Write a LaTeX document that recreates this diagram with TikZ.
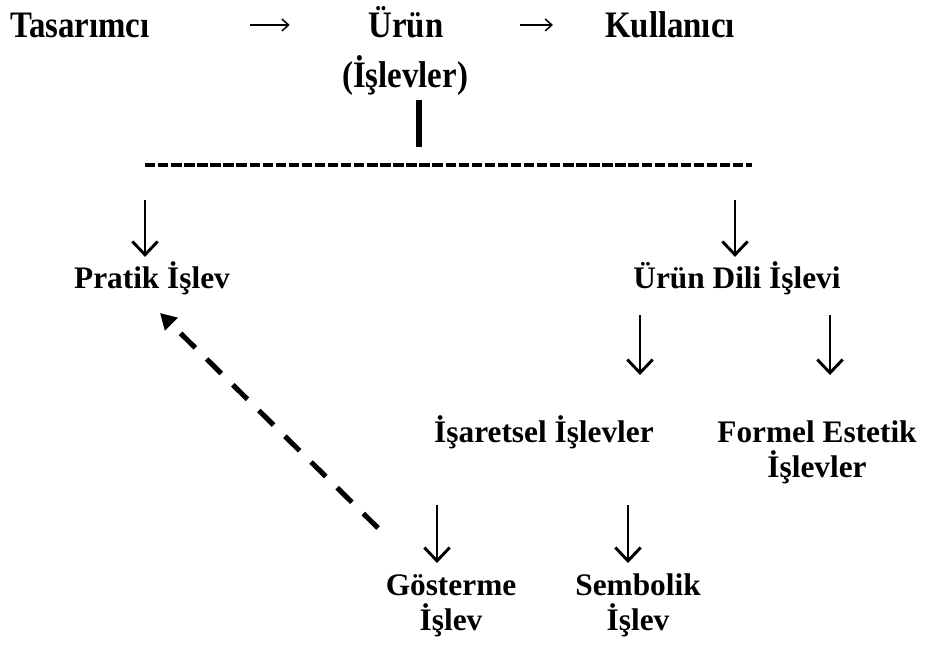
\documentclass[tikz,border=0pt]{standalone}
\usepackage{fontspec}
\setmainfont{Liberation Serif}
\newfontfamily\headfont{Liberation Serif}[FakeStretch=0.88]
\usetikzlibrary{arrows.meta}
\begin{document}
\begin{tikzpicture}[x=0.75pt,y=-0.75pt,
  lbl/.style={font=\bfseries\fontsize{23.5}{26}\selectfont, inner sep=0pt, anchor=base, align=center},
  headlbl/.style={font=\headfont\bfseries\fontsize{28}{30}\selectfont, inner sep=0pt, anchor=base},
  toparr/.style={line width=1.1pt, -{Straight Barb[length=5pt,width=9pt]}},
  darr/.style={line width=2.2pt, -{Straight Barb[length=10pt,width=19pt]}},
  dasharr/.style={line width=3.8pt, dash pattern=on 15.5pt off 12pt, -{Triangle[length=12pt,width=13pt]}},
  hdash/.style={line width=2.4pt, dash pattern=on 7.8pt off 2pt},
  bar/.style={line width=3.8pt}]
  \useasboundingbox (0,0) rectangle (930,644);

  % top row: designer -> product -> user
  \node[headlbl] (tas)  at (80,37)  {Tasarımcı};
  \node[headlbl] (urun) at (406,37) {Ürün};
  \node[headlbl] (kul)  at (670,37) {Kullanıcı};
  \node[headlbl] (isl)  at (405,87) {(İşlevler)};
  \draw[toparr, shorten <=75pt, shorten >=59pt] (tas.east) -- (tas.east -| urun.west);
  \draw[toparr, shorten <=57pt, shorten >=39pt] (tas.east -| urun.east) -- (tas.east -| kul.west);

  % bar and dashed rule
  \coordinate (bartop) at (419,100);
  \coordinate (barbot) at (419,147);
  \coordinate (dl) at (145,165);
  \coordinate (dr) at (752,165);
  \draw[bar] (bartop) -- (barbot);
  \draw[hdash] (dl) -- (dr);

  % second level
  \node[lbl] (prat) at (152,288) {Pratik İşlev};
  \node[lbl] (udi)  at (737,288) {Ürün Dili İşlevi};
  \coordinate (a1) at (145,200);
  \coordinate (a2) at (735,200);
  \draw[darr, shorten >=3pt] (a1) -- (a1 |- prat.north);
  \draw[darr, shorten >=3pt] (a2) -- (a2 |- udi.north);

  % third level
  \node[lbl] (isr) at (544,442) {İşaretsel İşlevler};
  \node[lbl] (fes) at (817,477) {Formel Estetik\\İşlevler};
  \coordinate (a3) at (640,315);
  \coordinate (a3e) at (640,375);
  \coordinate (a4) at (830,315);
  \coordinate (a4e) at (830,375);
  \draw[darr] (a3) -- (a3e);
  \draw[darr] (a4) -- (a4e);

  % fourth level
  \node[lbl] (gos) at (451,630) {Gösterme\\İşlev};
  \node[lbl] (sem) at (638,630) {Sembolik\\İşlev};
  \coordinate (a5) at (437,505);
  \coordinate (a5e) at (437,563);
  \coordinate (a6) at (628,505);
  \coordinate (a6e) at (628,563);
  \draw[darr] (a5) -- (a5e);
  \draw[darr] (a6) -- (a6e);

  % dashed link back to the practical function
  \coordinate (dtail) at (378,528);
  \coordinate (dtip) at (160,313);
  \draw[dasharr] (dtail) -- (dtip);
\end{tikzpicture}
\end{document}
